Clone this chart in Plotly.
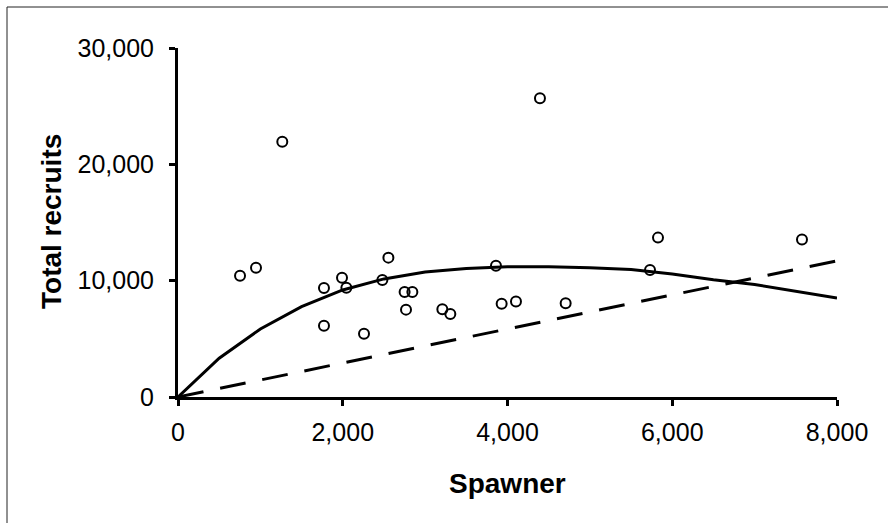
import plotly.graph_objects as go

# Observed spawner / recruit pairs
spawners = [753, 947, 1266, 1772, 1772, 1991, 2044, 2258, 2481, 2554, 2751, 2845,
            2768, 3209, 3306, 3860, 3929, 4103, 4394, 4706, 5730, 5827, 7575]
recruits = [10430, 11120, 21950, 9370, 6130, 10260, 9400, 5440, 10060, 11980, 9030, 9030,
            7510, 7540, 7140, 11290, 8020, 8200, 25680, 8050, 10920, 13700, 13530]

# Fitted stock-recruit curve (at 500 steps)
curve_s = [0, 500, 1000, 1500, 2000, 2500, 3000, 3500, 4000, 4500, 5000, 5500,
           6000, 6500, 7000, 7500, 8000]
curve_r = [0, 3330, 5850, 7760, 9200, 10150, 10750, 11050, 11200, 11200, 11100, 10950,
           10580, 10070, 9670, 9110, 8510]

# Replacement line
repl_s = [0, 8000]
repl_r = [0, 11700]

x_ticks = [0, 2000, 4000, 6000, 8000]
y_ticks = [0, 10000, 20000, 30000]

FONT = "Liberation Sans, Arial, sans-serif"

fig = go.Figure()
fig.add_trace(go.Scatter(x=repl_s, y=repl_r, mode="lines",
                         line=dict(color="black", width=3, dash="26px,17px"),
                         hoverinfo="skip"))
fig.add_trace(go.Scatter(x=curve_s, y=curve_r, mode="lines",
                         line=dict(color="black", width=3), hoverinfo="skip"))
fig.add_trace(go.Scatter(x=spawners, y=recruits, mode="markers",
                         marker=dict(symbol="circle-open", size=10, color="black",
                                     line=dict(width=2, color="black"))))

fig.update_layout(
    width=888, height=523,
    margin=dict(l=178, r=51, t=48, b=126),
    paper_bgcolor="white", plot_bgcolor="white",
    showlegend=False,
    font=dict(family=FONT, color="black", size=25),
    xaxis=dict(range=[0, 8000], tickvals=x_ticks, tickformat=",d",
               showgrid=False, zeroline=False,
               showline=True, linewidth=3, linecolor="black",
               ticks="outside", ticklen=6, tickwidth=3, tickcolor="black",
               tickfont=dict(size=25, family=FONT), ticklabelstandoff=5),
    yaxis=dict(range=[0, 30000], tickvals=y_ticks, tickformat=",d",
               showgrid=False, zeroline=False,
               showline=True, linewidth=3, linecolor="black",
               ticks="outside", ticklen=6, tickwidth=3, tickcolor="black",
               tickfont=dict(size=25, family=FONT), ticklabelstandoff=10),
    annotations=[
        dict(text="<b>Spawner</b>", xref="paper", yref="paper",
             x=0.5, y=(397 - 483) / 349, xanchor="center", yanchor="middle",
             showarrow=False, font=dict(size=28, family=FONT, color="black")),
        dict(text="<b>Total recruits</b>", xref="paper", yref="paper",
             x=(51 - 178) / 659, y=(397 - 222) / 349, xanchor="center", yanchor="middle",
             textangle=-90, showarrow=False,
             font=dict(size=28, family=FONT, color="black")),
    ],
    shapes=[
        dict(type="rect", xref="paper", yref="paper",
             x0=(7 - 178) / 659, x1=1.3, y0=-0.6, y1=(397 - 7) / 349,
             line=dict(color="#222", width=1), fillcolor="rgba(0,0,0,0)", layer="below"),
    ],
)

fig.write_html("out.html")
